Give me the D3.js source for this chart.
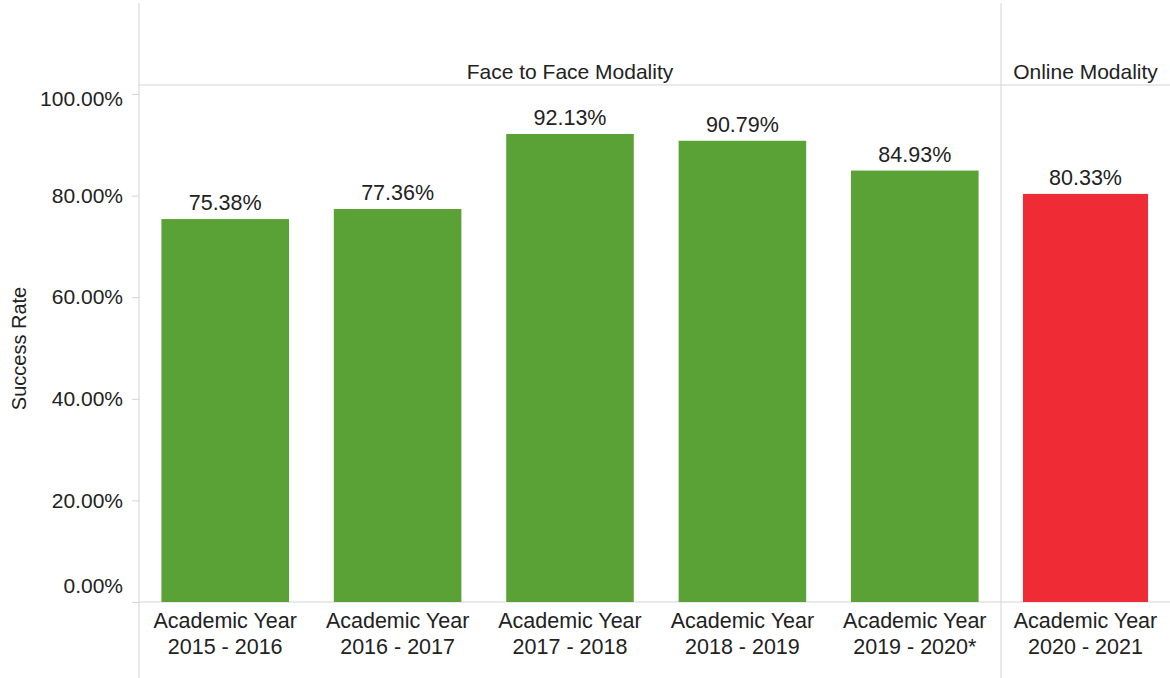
<!DOCTYPE html>
<html>
<head>
<meta charset="utf-8">
<script src="https://cdn.jsdelivr.net/npm/d3@7"></script>
<style>
  body { margin: 0; background: #fff; }
  text { font-family: "Liberation Sans", Arial, sans-serif; fill: #222; }
</style>
</head>
<body>
<script>
const w = 1170;
const h = 678;

// data
const years = ["2015 - 2016", "2016 - 2017", "2017 - 2018", "2018 - 2019", "2019 - 2020*", "2020 - 2021"];
const rates = [75.38, 77.36, 92.13, 90.79, 84.93, 80.33];
const modality = ["Face to Face Modality", "Face to Face Modality", "Face to Face Modality", "Face to Face Modality", "Face to Face Modality", "Online Modality"];
const yTicks = [0, 20, 40, 60, 80, 100];

const m = { top: 85, bottom: 602, left: 139, split: 1001, right: 1170 };
const colors = { "Face to Face Modality": "#5ba236", "Online Modality": "#ef2b36" };
const lineColor = "#d4d4d4";

const svg = d3.select("body").append("svg")
  .attr("width", w)
  .attr("height", h);

const y = d3.scaleLinear().domain([0, 100]).range([m.bottom, 94]);

// one band scale per panel
const panels = [
  { name: "Face to Face Modality", x0: m.left, x1: m.split },
  { name: "Online Modality", x0: m.split, x1: m.right }
];
panels.forEach(p => {
  p.idx = years.map((d, i) => i).filter(i => modality[i] === p.name);
  p.x = d3.scaleBand().domain(p.idx).range([p.x0, p.x1]).paddingInner(0.26).paddingOuter(0.13);
});
function xOf(i) { return panels.find(p => p.name === modality[i]).x; }

// frame lines
svg.append("line").attr("x1", m.left).attr("x2", m.right).attr("y1", m.top).attr("y2", m.top)
  .attr("stroke", lineColor);
svg.append("line").attr("x1", m.left).attr("x2", m.right).attr("y1", m.bottom).attr("y2", m.bottom)
  .attr("stroke", lineColor);
svg.selectAll(".vsep").data([m.left, m.split]).enter().append("line")
  .attr("x1", d => d).attr("x2", d => d).attr("y1", 3).attr("y2", h)
  .attr("stroke", lineColor);

// panel headers
svg.selectAll(".hdr").data(panels).enter().append("text")
  .attr("x", d => (d.x0 + d.x1) / 2)
  .attr("y", 79)
  .attr("text-anchor", "middle")
  .attr("font-size", 21)
  .text(d => d.name);

// y axis
const yAxis = d3.axisLeft(y).tickValues(yTicks).tickSize(7).tickFormat(d => d3.format(".2f")(d) + "%");
const ga = svg.append("g").attr("transform", "translate(" + m.left + ",0)").call(yAxis);
ga.select(".domain").remove();
ga.selectAll(".tick line").attr("stroke", lineColor);
ga.selectAll(".tick text")
  .attr("font-size", 21)
  .attr("fill", "#222")
  .attr("x", -16)
  .attr("dy", d => d === 0 ? "-0.45em" : d === 100 ? "0.55em" : "0.32em");

svg.append("text")
  .attr("transform", "translate(26," + ((m.top + m.bottom) / 2 + 5) + ") rotate(-90)")
  .attr("text-anchor", "middle")
  .attr("font-size", 20)
  .text("Success Rate");

// bars
svg.selectAll(".bar").data(rates).enter().append("rect")
  .attr("x", (d, i) => xOf(i)(i))
  .attr("width", (d, i) => xOf(i).bandwidth())
  .attr("y", d => y(d))
  .attr("height", d => y(0) - y(d))
  .attr("fill", (d, i) => colors[modality[i]]);

// value labels
svg.selectAll(".val").data(rates).enter().append("text")
  .attr("x", (d, i) => xOf(i)(i) + xOf(i).bandwidth() / 2)
  .attr("y", d => y(d) - 9)
  .attr("text-anchor", "middle")
  .attr("font-size", 21.5)
  .text(d => d3.format(".2f")(d) + "%");

// category labels
const cat = svg.selectAll(".cat").data(years).enter().append("text")
  .attr("x", (d, i) => xOf(i)(i) + xOf(i).bandwidth() / 2)
  .attr("y", 628)
  .attr("text-anchor", "middle")
  .attr("font-size", 21.5);
cat.append("tspan").attr("x", function () { return this.parentNode.getAttribute("x"); }).text("Academic Year");
cat.append("tspan").attr("x", function () { return this.parentNode.getAttribute("x"); }).attr("dy", 26).text(d => d);
</script>
</body>
</html>
